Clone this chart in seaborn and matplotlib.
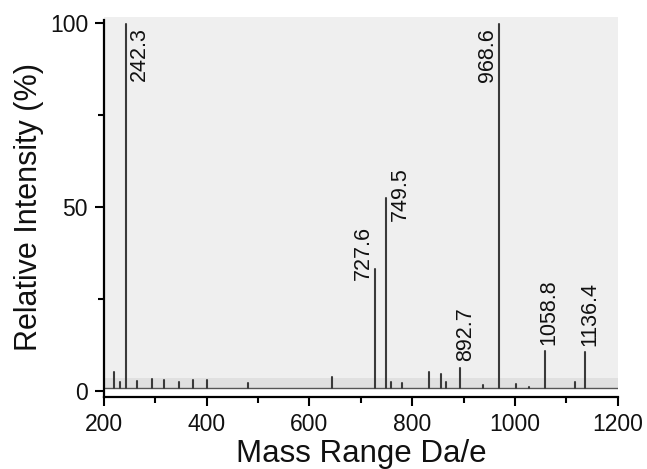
import matplotlib
matplotlib.use("Agg")
import matplotlib.pyplot as plt
from matplotlib.ticker import MultipleLocator
import numpy as np
import pandas as pd
import seaborn as sns

# Labelled peaks (m/z, relative intensity %)
peak_mz = [242.3, 727.6, 749.5, 892.7, 968.6, 1058.8, 1136.4]
peak_int = [99.5, 33.0, 52.5, 6.3, 99.7, 10.9, 10.7]
peak_labels = ["242.3", "727.6", "749.5", "892.7", "968.6", "1058.8", "1136.4"]

# Minor unlabelled peaks
minor_mz = [220, 231, 264, 293, 317, 346, 373, 400, 481, 643, 759, 780,
            833, 856, 866, 938, 1003, 1028, 1117]
minor_int = [5.2, 2.5, 2.8, 3.2, 2.9, 2.6, 3.0, 2.9, 2.2, 3.9, 2.5, 2.3,
             5.2, 4.6, 2.5, 1.6, 1.8, 1.2, 2.5]

baseline = 0.8
x_ticks = [200, 400, 600, 800, 1000, 1200]
y_ticks = [0, 50, 100]

sns.set_theme(style="ticks")
plt.rcParams["font.family"] = ["Liberation Sans", "DejaVu Sans"]

# Build a stick spectrum: one vertical segment per peak
all_mz = peak_mz + minor_mz
all_int = peak_int + minor_int
rows = []
for i, (m, h) in enumerate(zip(all_mz, all_int)):
    rows.append({"peak": i, "mz": m, "intensity": baseline})
    rows.append({"peak": i, "mz": m, "intensity": h})
sticks = pd.DataFrame(rows)
base = pd.DataFrame({"mz": [x_ticks[0], x_ticks[-1]], "intensity": [baseline, baseline]})

fig = plt.figure(figsize=(6.47, 4.69), dpi=100)
ax = fig.add_axes([0.1607, 0.1535, 0.7940, 0.8103])
ax.set_facecolor("white")

# grey plotting field and darker noise band above the baseline
ax.axhspan(baseline, 101.5, color="#efefef", zorder=0, lw=0)
ax.axhspan(baseline, 3.5, color="#e0e0e0", zorder=0.5, lw=0)

sns.lineplot(data=base, x="mz", y="intensity", ax=ax, color="#555555", lw=1.0,
             zorder=2)
sns.lineplot(data=sticks, x="mz", y="intensity", units="peak", estimator=None,
             sort=False, ax=ax, color="#3a3a3a", lw=1.5, zorder=3)

# peak annotations: (dx px, dy px, ha, va)
placement = {
    "242.3": (3, -3, "left", "top"),
    "727.6": (-1, -11, "right", "bottom"),
    "749.5": (4, 3, "left", "center"),
    "892.7": (6, 7, "center", "bottom"),
    "968.6": (-1, -5, "right", "top"),
    "1058.8": (4, 6, "center", "bottom"),
    "1136.4": (5, 6, "center", "bottom"),
}
for m, h, lab in zip(peak_mz, peak_int, peak_labels):
    dx, dy, ha, va = placement[lab]
    ax.annotate(lab, xy=(m, h), xytext=(dx, dy), textcoords="offset pixels",
                rotation=90, ha=ha, va=va, fontsize=15.5, color="#111111")

ax.set_xlim(200, 1200)
ax.set_ylim(-1.6, 101.5)
ax.set_xticks(x_ticks)
ax.set_yticks(y_ticks)
ax.xaxis.set_minor_locator(MultipleLocator(100))
ax.yaxis.set_minor_locator(MultipleLocator(25))
ax.tick_params(axis="x", which="major", pad=5)
ax.tick_params(axis="y", which="major", pad=5)
ax.tick_params(axis="both", which="major", direction="out", length=6.5,
               width=1.5, labelsize=16.5, color="black", labelcolor="#111111")
ax.tick_params(axis="both", which="minor", direction="out", length=4, width=1.5,
               color="black")

ax.set_xlabel("Mass Range Da/e", fontsize=22.5, labelpad=2, color="#111111")
ax.set_ylabel("Relative Intensity (%)", fontsize=22, labelpad=4, color="#111111")

sns.despine(ax=ax)
for side in ("left", "bottom"):
    ax.spines[side].set_linewidth(1.6)
    ax.spines[side].set_color("black")
ax.spines["left"].set_bounds(-1.6, 100.6)

fig.savefig("out.png", dpi=100)
